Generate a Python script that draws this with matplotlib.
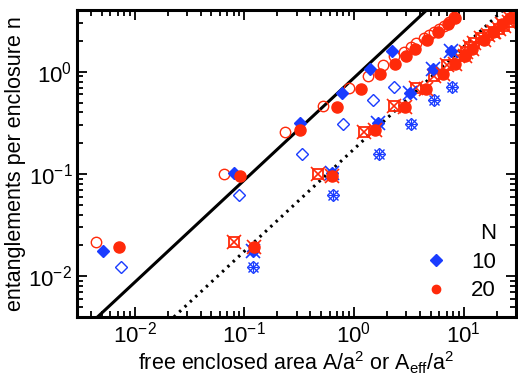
import numpy as np
import matplotlib.pyplot as plt

plt.rcParams['font.family'] = ['Liberation Sans', 'DejaVu Sans']
plt.rcParams['mathtext.fontset'] = 'custom'
plt.rcParams['mathtext.rm'] = 'Liberation Sans'
plt.rcParams['mathtext.it'] = 'Liberation Sans:italic'

blue = '#1a3cff'
red = '#ff2a0a'

# N=10, filled diamonds: A, A_eff, n
a10_f = [0.0052, 0.081, 0.321, 0.772, 1.41, 2.22]
aeff10_f = [0.119, 0.625, 1.66, 3.25, 5.30, 7.70]
n10_f = [0.0176, 0.102, 0.312, 0.622, 1.06, 1.60]

# N=10, open diamonds
a10_o = [0.0076, 0.089, 0.335, 0.798, 1.48, 2.33]
aeff10_o = [0.119, 0.645, 1.70, 3.32, 5.42, 7.81]
n10_o = [0.0123, 0.0622, 0.156, 0.307, 0.528, 0.703]

# N=20, filled circles
a20_f = [0.0072, 0.091, 0.321, 0.695, 1.17, 1.74, 2.37, 2.98, 3.63, 4.6, 5.8, 7.2, 8.4]
aeff20_f = [0.123, 0.625, 1.56, 2.92, 4.55, 6.47, 8.37, 10.4, 12.0, 15.2, 18.5, 22.5, 26.5]
n20_f = [0.0192, 0.0955, 0.268, 0.448, 0.676, 0.949, 1.18, 1.43, 1.66, 2.05, 2.45, 2.95, 3.35]

# N=20, open circles
a20_o = [0.0045, 0.0655, 0.234, 0.518, 0.893, 1.35, 1.85, 2.33, 2.84,
         3.32, 3.68, 4.39, 4.87, 5.42, 6.01, 6.68, 7.43, 8.25]
aeff20_o = [0.081, 0.475, 1.24, 2.33, 3.68, 5.34, 7.04, 8.86, 10.5,
            11.5, 12.5, 14.4, 16.6, 19.0, 21.1, 23.5, 26.1, 29.4]
n20_o = [0.0215, 0.099, 0.255, 0.464, 0.697, 0.907, 1.16, 1.43, 1.57,
         1.76, 1.90, 2.15, 2.29, 2.47, 2.62, 2.82, 3.09, 3.46]

# reference lines n = c * A
line_x = [1e-3, 1e2]
c_solid = 0.87
c_dotted = 0.175

fig = plt.figure(figsize=(5.18, 3.76), dpi=100)
ax = fig.add_axes([0.149, 0.157, 0.847, 0.816])

ax.plot(line_x, [c_solid * x for x in line_x], color='black', lw=2.2, zorder=1)
ax.plot(line_x, [c_dotted * x for x in line_x], color='black', lw=2.2,
        linestyle=(0, (0.8, 1.6)), zorder=1)

# plain markers vs A
ax.plot(a10_o, n10_o, 'D', ms=6.5, mfc='none', mec=blue, mew=1.0, ls='none')
ax.plot(a20_o, n20_o, 'o', ms=7.5, mfc='none', mec=red, mew=1.0, ls='none')
ax.plot(a10_f, n10_f, 'D', ms=6.5, color=blue, ls='none')
ax.plot(a20_f, n20_f, 'o', ms=8, color=red, ls='none')

# crossed markers vs A_eff
ax.plot(aeff10_o, n10_o, 'D', ms=6.5, mfc='none', mec=blue, mew=1.0, ls='none')
ax.plot(aeff10_o, n10_o, 'x', ms=7, color=blue, mew=1.0, ls='none')
ax.plot(aeff10_o, n10_o, '+', ms=7, color=blue, mew=0.8, ls='none')
ax.plot(aeff20_o, n20_o, 's', ms=6.5, mfc='none', mec=red, mew=1.3, ls='none')
ax.plot(aeff20_o, n20_o, 'x', ms=9.5, color=red, mew=1.2, ls='none')
ax.plot(aeff10_f, n10_f, 'D', ms=6.5, color=blue, ls='none')
ax.plot(aeff10_f, n10_f, 'x', ms=9.5, color=blue, mew=1.2, ls='none')
ax.plot(aeff20_f, n20_f, 'o', ms=8, color=red, ls='none')
ax.plot(aeff20_f, n20_f, 'x', ms=10.5, color=red, mew=1.2, ls='none')

# legend handles
h10, = ax.plot([], [], 'D', ms=6, color=blue, ls='none')
h20, = ax.plot([], [], 'o', ms=6, color=red, ls='none')
leg = ax.legend([h10, h20], ['10', '20'], title='N', loc='lower right',
                frameon=False, fontsize=16, title_fontsize=16,
                handletextpad=0.6, labelspacing=0.35, borderaxespad=0.3,
                bbox_to_anchor=(0.99, 0.0))
leg._legend_box.align = 'right'

ax.set_xscale('log')
ax.set_yscale('log')
ax.set_xlim(0.003, 30)
ax.set_ylim(0.004, 4)

for s in ax.spines.values():
    s.set_linewidth(2.2)
ax.tick_params(which='both', direction='in', top=True, right=True,
               labelsize=16, width=1.3)
ax.tick_params(which='major', length=7)
ax.tick_params(which='minor', length=4)

ax.set_xlabel('free enclosed area A/a$^2$ or A$_{\\mathrm{eff}}$/a$^2$', fontsize=15.5, labelpad=1)
ax.set_ylabel('entanglements per enclosure n', fontsize=15.5, labelpad=2)

fig.savefig('out.png', dpi=100)
